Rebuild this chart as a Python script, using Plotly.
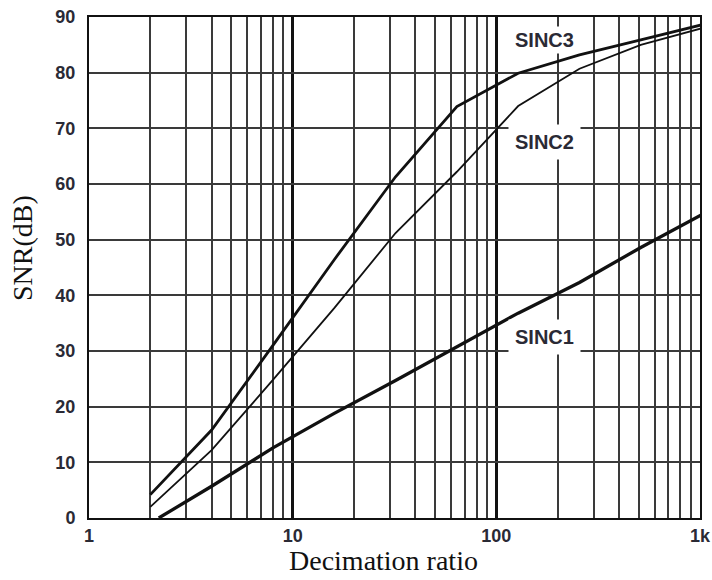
import math
import plotly.graph_objects as go

# Data
ratio = [2, 4, 8, 16, 32, 64, 128, 256, 512, 1024]
sinc3 = [4.2, 15.8, 31.0, 46.4, 61.3, 73.9, 79.9, 83.2, 85.9, 88.6]
sinc2 = [2.0, 12.2, 24.8, 37.7, 51.2, 62.2, 74.0, 80.7, 85.0, 88.0]
ratio1 = [2.2, 4, 8, 16, 32, 64, 128, 256, 512, 1024]
sinc1 = [0.0, 5.7, 12.6, 18.8, 24.7, 30.7, 36.8, 42.3, 48.6, 54.5]

major_ticks = [1, 10, 100, 1000]
major_text = ["1", "10", "100", "1k"]
minor_ticks = [2, 3, 4, 5, 6, 7, 8, 9, 20, 30, 40, 50, 60, 70, 80, 90,
               200, 300, 400, 500, 600, 700, 800, 900]

labels = ["SINC3", "SINC2", "SINC1"]
label_x = [173, 173, 173]
label_y = [85.9, 67.6, 32.6]
label_pad = [2, 6, 6]

fig = go.Figure()
fig.add_trace(go.Scatter(x=ratio1, y=sinc1, mode="lines", name="SINC1",
                         line=dict(color="#111111", width=3.3)))
fig.add_trace(go.Scatter(x=ratio, y=sinc2, mode="lines", name="SINC2",
                         line=dict(color="#111111", width=1.8)))
fig.add_trace(go.Scatter(x=ratio, y=sinc3, mode="lines", name="SINC3",
                         line=dict(color="#111111", width=2.8)))

for t, lx, ly, pad in zip(labels, label_x, label_y, label_pad):
    fig.add_annotation(x=math.log10(lx), y=ly, xref="x", yref="y", text="<b>%s</b>" % t,
                       showarrow=False, bgcolor="white", borderpad=pad,
                       font=dict(family="Liberation Sans, Arial", size=20, color="#2a2a35"))

fig.add_annotation(x=-0.108, y=0.539, xref="paper", yref="paper", text="SNR(dB)",
                   textangle=-90, showarrow=False, xanchor="center", yanchor="middle",
                   font=dict(family="Liberation Serif, Times New Roman", size=28, color="#111"))
fig.add_annotation(x=0.482, y=-0.084, xref="paper", yref="paper", text="Decimation ratio",
                   showarrow=False, xanchor="center", yanchor="middle",
                   font=dict(family="Liberation Serif, Times New Roman", size=28, color="#111"))

fig.update_layout(
    width=712, height=580,
    margin=dict(l=89, r=12, t=17, b=62),
    paper_bgcolor="white", plot_bgcolor="white",
    showlegend=False,
    xaxis=dict(type="log", range=[0, 3], tickmode="array", tickvals=major_ticks,
               ticktext=major_text, showgrid=True, gridcolor="#111111", gridwidth=3,
               minor=dict(tickmode="array", tickvals=minor_ticks, showgrid=True,
                          gridcolor="#3a3a3a", gridwidth=2, ticks=""),
               showline=True, linecolor="#111111", linewidth=2, mirror=True,
               ticks="", zeroline=False, automargin=False,
               tickfont=dict(family="Liberation Sans, Arial", size=18, color="#2a2a35",
                             weight="bold")),
    yaxis=dict(range=[0, 90], dtick=10, tick0=0, showgrid=True, gridcolor="#3a3a3a",
               gridwidth=2, showline=True, linecolor="#111111", linewidth=2, mirror=True,
               ticks="", zeroline=False, ticklabelstandoff=8, automargin=False,
               tickfont=dict(family="Liberation Sans, Arial", size=18, color="#2a2a35",
                             weight="bold")),
)

fig.write_html("out.html")
